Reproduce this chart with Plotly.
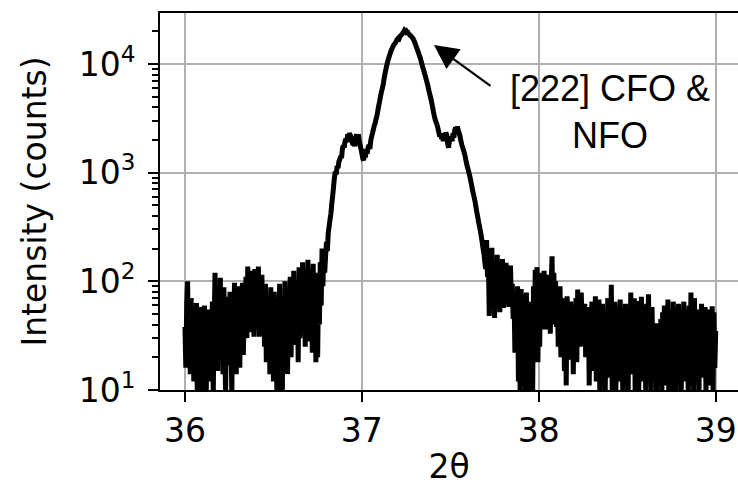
import plotly.graph_objects as go

# Scan grid: 2-theta from 36.000 to 39.000 deg in 0.005 deg steps
TWO_THETA_START = 36.0
TWO_THETA_STEP = 0.005

# Measured intensity (counts), split by region of the scan
counts_left_bg = [
    38, 16, 62, 100, 22, 45, 14, 70, 28, 52,
    12, 55, 20, 63, 8, 40, 24, 58, 9, 35,
    50, 14, 60, 22, 8, 45, 18, 55, 12, 30,
    20, 65, 9, 42, 120, 26, 70, 15, 95, 33,
    108, 19, 60, 14, 88, 25, 9, 72, 30, 55,
    17, 80, 28, 9, 66, 22, 97, 35, 14, 58,
    26, 90, 16, 70, 38, 97, 21, 60, 45, 110,
    30, 137, 50, 80, 34, 125, 42, 90, 31, 130,
    36, 100, 48, 137, 31, 85, 40, 115, 33, 70,
    25, 95, 18, 75, 30, 60, 14, 88, 22, 65,
    12, 80, 20, 55, 8, 70, 15, 95, 9, 50,
    8, 60, 18, 100, 25, 75, 14, 85, 30, 110,
    20, 90, 35, 125, 26, 70, 40, 100, 18, 135,
    30, 110, 45, 150, 35, 95, 25, 120, 50, 158,
    28, 130, 60, 100, 22, 145, 45, 85, 18, 120,
    20, 90, 40, 150, 60, 200, 90, 180, 120, 170,
]

counts_peak = [
    230, 190, 280, 320, 370, 420, 520, 610, 740, 900,
    1020, 960, 1150, 1100, 1260, 1320, 1420, 1360, 1650, 1780,
    1700, 1950, 2050, 1900, 2250, 2100, 2300, 2200, 2050, 1900,
    1800, 1950, 1750, 2100, 2250, 2000, 2250, 1950, 1800, 1650,
    1500, 1350, 1300, 1550, 1380, 1650, 1500, 1700, 1800, 1650,
    1950, 2150, 2300, 2500, 2700, 2850, 3100, 3300, 3700, 4100,
    4500, 5000, 5500, 5900, 6400, 7200, 8000, 8800, 9600, 10400,
    11100, 11800, 12500, 13200, 13800, 14400, 14900, 15300, 15700, 16300,
    16800, 17200, 17000, 17800, 18300, 18600, 19200, 19600, 20300, 19800,
    20100, 19400, 19500, 18900, 18600, 18200, 17900, 17500, 17100, 16300,
    15700, 14800, 14100, 13300, 12700, 12000, 11400, 10600, 9900, 9200,
    8700, 8100, 7600, 7100, 6600, 6100, 5600, 5200, 4800, 4400,
    4000, 3600, 3300, 3050, 2900, 2750, 2550, 2350, 2150, 2300,
    2050, 2150, 1950, 2250, 2100, 2350, 2200, 1850, 1700, 1950,
    2000, 2150, 1950, 2300, 2100, 2450, 2600, 2350, 2650, 2450,
    2300, 2150, 1950, 1800, 1700, 1600, 1500, 1380, 1250, 1150,
    1080, 1000, 930, 850, 770, 700, 640, 590, 540, 480,
    430, 390, 350, 320, 290, 260, 230, 200, 180, 150,
    130,
]

counts_right_bg = [
    240, 110, 160, 48, 120, 70, 204, 55, 150, 46,
    130, 60, 175, 80, 140, 52, 120, 95, 160, 57,
    110, 65, 148, 75, 130, 58, 100, 140, 60, 95,
    45, 80, 22, 70, 35, 90, 12, 60, 8, 85,
    30, 75, 22, 60, 8, 79, 25, 50, 9, 65,
    20, 45, 8, 90, 30, 128, 40, 135, 18, 110,
    25, 120, 45, 100, 36, 125, 60, 90, 36, 115,
    50, 105, 33, 95, 170, 40, 120, 55, 100, 38,
    65, 25, 58, 90, 20, 70, 35, 60, 15, 68,
    11, 73, 30, 55, 19, 65, 24, 50, 14, 60,
    28, 70, 18, 84, 35, 60, 25, 79, 40, 55,
    27, 62, 20, 48, 30, 58, 11, 45, 22, 65,
    15, 55, 30, 73, 12, 50, 24, 68, 9, 40,
    28, 62, 14, 55, 8, 45, 20, 70, 13, 58,
    25, 93, 10, 50, 30, 65, 8, 44, 18, 60,
    12, 68, 26, 55, 8, 47, 20, 62, 11, 40,
    9, 58, 22, 79, 14, 50, 30, 70, 8, 55,
    18, 66, 10, 48, 25, 72, 12, 60, 20, 44,
    8, 62, 15, 76, 28, 50, 10, 58, 22, 41,
    13, 38, 9, 41, 20, 35, 12, 45, 8, 52,
    16, 60, 11, 48, 25, 68, 9, 55, 18, 40,
    10, 65, 22, 50, 8, 58, 14, 62, 26, 44,
    9, 52, 18, 65, 12, 48, 20, 55, 8, 60,
    15, 79, 24, 58, 10, 70, 20, 46, 12, 55,
    8, 50, 18, 62, 13, 45, 25, 58, 9, 40,
    14, 55, 11, 48, 22, 59, 10, 52, 16, 35,
]

x_ticks = [36, 37, 38, 39]
y_ticks = [10, 100, 1000, 10000]
y_tick_labels = ["10<sup>1</sup>", "10<sup>2</sup>", "10<sup>3</sup>", "10<sup>4</sup>"]

annotation_text = "[222] CFO &<br>NFO"

intensity = counts_left_bg + counts_peak + counts_right_bg
two_theta = [round(TWO_THETA_START + i * TWO_THETA_STEP, 3) for i in range(len(intensity))]

# minor log ticks at 2..9 x each decade
y_minor = [m * d for d in (10, 100, 1000, 10000) for m in range(2, 10)]

fig = go.Figure()
fig.add_trace(go.Scatter(
    x=two_theta, y=intensity, mode="lines",
    line=dict(color="black", width=5, simplify=False),
    showlegend=False, hoverinfo="skip",
))

axis_font = dict(family="DejaVu Sans", size=33, color="black")

fig.update_layout(
    width=738, height=486,
    margin=dict(l=160, r=0, t=13, b=96, autoexpand=False),
    paper_bgcolor="white", plot_bgcolor="white",
    font=axis_font,
    xaxis=dict(
        range=[35.859, 39.126],
        tickvals=x_ticks,
        ticks="outside", ticklen=10, tickwidth=2, tickcolor="black",
        showline=True, linecolor="black", linewidth=2, mirror=True,
        showgrid=True, gridcolor="#b0b0b0", gridwidth=2.4,
        zeroline=False,
        tickfont=axis_font,
        title=dict(text="2θ", font=axis_font, standoff=6),
    ),
    yaxis=dict(
        type="log",
        range=[1, 4.469],
        tickmode="array", tickvals=y_ticks, ticktext=y_tick_labels,
        ticks="outside", ticklen=10, tickwidth=2, tickcolor="black",
        ticklabelstandoff=6,
        showline=True, linecolor="black", linewidth=2, mirror=False,
        showgrid=True, gridcolor="#b0b0b0", gridwidth=2.4,
        zeroline=False,
        tickfont=axis_font,
        minor=dict(tickmode="array", tickvals=y_minor, ticks="outside",
                   ticklen=6, tickwidth=1.6, tickcolor="black", showgrid=False),
        title=dict(text="Intensity (counts)", font=axis_font, standoff=22),
    ),
)

# Peak label and arrow pointing at the main reflection
fig.add_annotation(
    x=37.4076, y=4.1746, ax=37.7355, ay=3.7886,
    xref="x", yref="y", axref="x", ayref="y",
    text="", showarrow=True,
    arrowhead=2, arrowsize=2.2, arrowwidth=2.2, arrowcolor="black",
    standoff=0, startstandoff=0,
)
fig.add_annotation(
    x=38.402, y=3.554, xref="x", yref="y",
    text=annotation_text, showarrow=False,
    xanchor="center", yanchor="middle", align="center",
    font=dict(family="Liberation Sans", size=36, color="black"),
)

fig.write_html("out.html")
